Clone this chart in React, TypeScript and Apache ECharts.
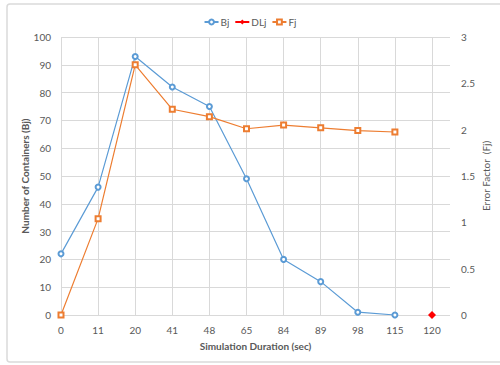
import React, { useEffect, useRef } from "react";
import * as echarts from "echarts";

// Simulation time steps (sec)
const durations = ["0", "11", "20", "41", "48", "65", "84", "89", "98", "115", "120"];
// Number of containers per step
const bjValues: (number | null)[] = [22, 46, 93, 82, 75, 49, 20, 12, 1, 0, null];
// Deadline marker
const dljValues: (number | null)[] = [null, null, null, null, null, null, null, null, null, null, 0];
// Error factor per step
const fjValues: (number | null)[] = [0, 1.04, 2.7, 2.22, 2.14, 2.01, 2.05, 2.02, 1.99, 1.975, null];

const FONT = "Lato, 'Open Sans', sans-serif";
const TEXT = "#595959";
const GRID_LINE = "#D9D9D9";

export default function App() {
  const ref = useRef<HTMLDivElement>(null);

  useEffect(() => {
    if (!ref.current) return;
    const chart = echarts.init(ref.current, undefined, { renderer: "svg" });
    const top = 37;
    const bottom = 50;
    chart.setOption({
      animation: false,
      backgroundColor: "#ffffff",
      textStyle: { fontFamily: FONT },
      graphic: [
        {
          type: "rect",
          shape: { x: 7, y: 4, width: 500, height: 358, r: 3 },
          style: { fill: "none", stroke: "#DADADA", lineWidth: 1.5 },
          silent: true,
        },
      ],
      legend: {
        top: 12,
        left: "center",
        itemWidth: 14,
        itemHeight: 6,
        itemGap: 5,
        textStyle: { color: TEXT, fontSize: 10, fontFamily: FONT, padding: [0, 0, 0, -3] },
        data: ["Bj", "DLj", "Fj"],
      },
      grid: [
        { left: 61, right: 50, top, bottom },
        { left: 61, right: 68, top, bottom },
      ],
      xAxis: [
        {
          type: "value",
          gridIndex: 0,
          min: 0,
          max: 1,
          axisLine: { show: false },
          axisTick: { show: false },
          axisLabel: { show: false },
          splitLine: { show: false },
          name: "Simulation Duration (sec)",
          nameLocation: "middle",
          nameGap: 26,
          nameMoveOverlap: false,
          nameTextStyle: { color: TEXT, fontSize: 10, fontWeight: "bold", fontFamily: FONT },
        },
        {
          type: "category",
          gridIndex: 1,
          data: durations,
          boundaryGap: false,
          axisLine: { show: false },
          axisTick: { show: false },
          axisLabel: { color: TEXT, fontSize: 10, margin: 10, fontFamily: FONT },
          splitLine: { show: true, lineStyle: { color: GRID_LINE, width: 1 } },
        },
      ],
      yAxis: [
        {
          type: "value",
          gridIndex: 0,
          position: "left",
          min: 0,
          max: 100,
          interval: 10,
          axisLine: { show: false },
          axisTick: { show: false },
          axisLabel: { color: TEXT, fontSize: 10, margin: 10, fontFamily: FONT },
          splitLine: { show: true, lineStyle: { color: GRID_LINE, width: 1 } },
          name: "Number of Containers (Bj)",
          nameLocation: "middle",
          nameGap: 31,
          nameMoveOverlap: false,
          nameTextStyle: { color: TEXT, fontSize: 10, fontWeight: "bold", fontFamily: FONT },
        },
        {
          type: "value",
          gridIndex: 0,
          position: "right",
          min: 0,
          max: 3,
          interval: 0.5,
          axisLine: { show: false },
          axisTick: { show: false },
          axisLabel: { color: TEXT, fontSize: 10, margin: 11, fontFamily: FONT },
          splitLine: { show: false },
          name: "Error Factor  (Fj)",
          nameLocation: "middle",
          nameGap: 31,
          nameMoveOverlap: false,
          nameTextStyle: { color: TEXT, fontSize: 10, fontFamily: FONT },
        },
        { type: "value", gridIndex: 1, min: 0, max: 100, show: false },
        { type: "value", gridIndex: 1, min: 0, max: 3, show: false },
      ],
      series: [
        {
          name: "Bj",
          type: "line",
          xAxisIndex: 1,
          yAxisIndex: 2,
          data: bjValues,
          symbol: "emptyCircle",
          symbolSize: 5,
          color: "#5B9BD5",
          lineStyle: { color: "#5B9BD5", width: 1.2 },
          itemStyle: { color: "#5B9BD5", borderWidth: 0.9 },
          connectNulls: false,
        },
        {
          name: "DLj",
          type: "line",
          xAxisIndex: 1,
          yAxisIndex: 2,
          data: dljValues,
          symbol: "diamond",
          symbolSize: 8,
          color: "#FF0000",
          lineStyle: { color: "#FF0000", width: 1.2 },
          itemStyle: { color: "#FF0000" },
        },
        {
          name: "Fj",
          type: "line",
          xAxisIndex: 1,
          yAxisIndex: 3,
          data: fjValues,
          symbol: "emptyRect",
          symbolSize: 5,
          color: "#ED7D31",
          lineStyle: { color: "#ED7D31", width: 1.2 },
          itemStyle: { color: "#ED7D31", borderWidth: 0.9 },
        },
      ],
    });
    return () => chart.dispose();
  }, []);

  return (
    <div
      ref={ref}
      style={{ position: "absolute", left: 0, top: 0, width: 500, height: 365 }}
    />
  );
}
